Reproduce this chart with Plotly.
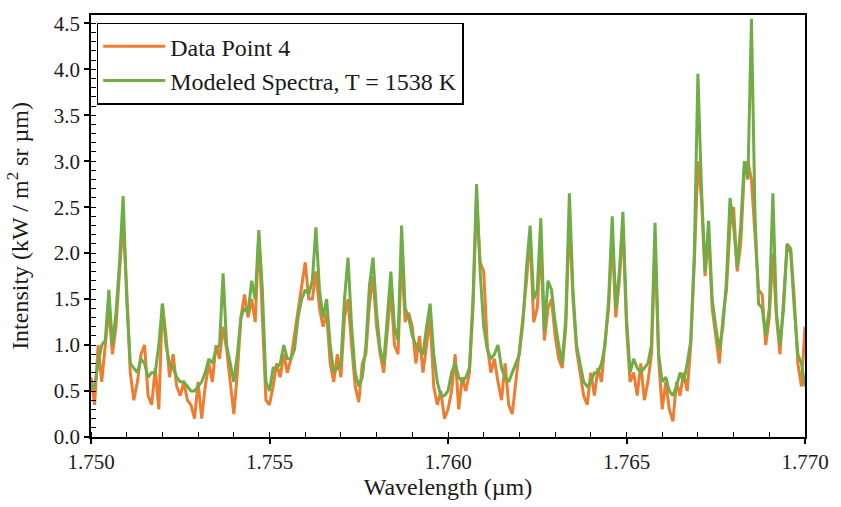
import plotly.graph_objects as go

# wavelength grid (µm), step 0.0001
wl_start = 1.750
wl_step = 0.0001

data_point_4 = [
    0.65, 0.35, 1.0, 0.6, 1.0, 1.4, 0.9, 1.2, 1.8, 2.35,
    1.6, 0.7, 0.4, 0.6, 0.9, 1.0, 0.45, 0.35, 0.75, 0.3,
    1.45, 1.1, 0.65, 0.9, 0.55, 0.45, 0.6, 0.4, 0.35, 0.2,
    0.6, 0.2, 0.55, 0.8, 0.6, 1.0, 0.85, 1.2, 0.95, 0.6,
    0.25, 0.7, 1.3, 1.55, 1.3, 1.5, 1.25, 2.2, 1.35, 0.4,
    0.35, 0.55, 0.8, 0.65, 0.9, 0.7, 0.85, 1.1, 1.35, 1.6,
    1.9, 1.5, 1.5, 1.8, 1.4, 1.2, 1.35, 0.8, 0.6, 0.9,
    0.65, 1.3, 1.5, 1.0, 0.55, 0.38, 0.8, 0.9, 1.45, 1.75,
    1.2, 0.9, 0.7, 1.15, 1.6, 1.0, 0.9, 2.0, 1.25, 1.35,
    1.2, 0.8, 1.1, 0.7, 1.0, 1.3, 0.55, 0.35, 0.5, 0.2,
    0.3, 0.5, 0.9, 0.3, 0.65, 0.5, 0.7, 1.4, 2.6, 1.9,
    1.8, 1.0, 0.7, 0.85, 0.6, 0.4, 0.8, 0.35, 0.25, 0.6,
    0.9, 1.3, 1.7, 2.2, 1.25, 1.4, 2.1, 1.05, 1.4, 1.5,
    1.1, 0.85, 0.75, 1.2, 2.4, 1.5, 0.95, 0.7, 0.45, 0.35,
    0.7, 0.45, 0.75, 0.6, 1.05, 1.4, 2.2, 1.3, 1.7, 2.3,
    1.2, 0.6, 0.7, 0.45, 0.8, 0.4, 0.6, 0.9, 2.1, 0.85,
    0.3, 0.6, 0.3, 0.17, 0.6, 0.45, 0.7, 0.5, 1.0, 1.9,
    3.0, 2.6, 1.75, 2.2, 1.4, 1.1, 0.8, 1.3, 1.6, 2.3,
    2.5, 1.8, 2.1, 2.9, 3.0, 2.8, 2.2, 1.6, 1.55, 1.0,
    1.3, 2.0, 1.3, 0.9, 1.5, 2.1, 2.05, 1.5, 0.8, 0.55,
    1.2,
]

modeled = [
    0.55, 0.55, 0.8, 1.0, 1.05, 1.6, 1.0, 1.35, 1.9, 2.62,
    1.5, 0.8, 0.75, 0.7, 0.85, 0.8, 0.65, 0.7, 0.7, 1.0,
    1.45, 1.0, 0.8, 0.75, 0.65, 0.6, 0.6, 0.55, 0.5, 0.5,
    0.55, 0.6, 0.7, 0.85, 0.8, 0.95, 1.0, 1.78, 1.0, 0.8,
    0.6, 0.9, 1.3, 1.4, 1.35, 1.7, 1.5, 2.25, 1.6, 0.6,
    0.5, 0.75, 0.75, 0.8, 1.0, 0.85, 0.85, 0.95, 1.3, 1.5,
    1.6, 1.55, 1.7, 2.28, 1.6, 1.3, 1.5, 1.0, 0.7, 0.75,
    0.8, 1.5, 1.95, 1.2, 0.7, 0.55, 0.65, 1.0, 1.65, 1.95,
    1.35, 0.95, 0.8, 1.3, 1.8, 1.2, 1.05, 2.3, 1.4, 1.3,
    1.1, 1.0, 0.95, 0.9, 1.2, 1.45, 0.9, 0.6, 0.45, 0.45,
    0.5, 0.7, 0.8, 0.65, 0.6, 0.65, 0.75, 1.5, 2.75, 1.8,
    1.2, 0.95, 0.85, 0.9, 1.0, 0.75, 0.65, 0.6, 0.7, 0.8,
    0.9, 1.25, 1.85, 2.3, 1.5, 1.6, 2.38, 1.15, 1.7, 1.6,
    1.25, 1.0, 0.8, 1.3, 2.65, 1.6, 1.0, 0.8, 0.6, 0.55,
    0.6, 0.7, 0.7, 0.8, 1.0, 1.5, 2.4, 1.4, 1.8, 2.45,
    1.3, 0.7, 0.85, 0.75, 0.7, 0.75, 0.8, 1.0, 2.33, 0.9,
    0.6, 0.65, 0.5, 0.45, 0.55, 0.7, 0.6, 0.8, 1.05, 2.0,
    3.95, 2.7, 1.8, 2.35, 1.5, 1.2, 0.95, 1.2, 1.7, 2.6,
    2.3, 1.85, 2.3, 3.0, 2.8, 4.55, 2.4, 1.45, 1.4, 1.1,
    1.4, 2.65, 1.35, 1.0, 1.4, 2.1, 2.0, 1.4, 0.9, 0.8,
    0.55,
]

wavelength = [round(wl_start + i * wl_step, 4) for i in range(len(modeled))]

x_ticks = [1.750, 1.755, 1.760, 1.765, 1.770]
x_tick_text = ["1.750", "1.755", "1.760", "1.765", "1.770"]
y_ticks = [0.0, 0.5, 1.0, 1.5, 2.0, 2.5, 3.0, 3.5, 4.0, 4.5]
y_tick_text = ["0.0", "0.5", "1.0", "1.5", "2.0", "2.5", "3.0", "3.5", "4.0", "4.5"]

FONT = "Liberation Serif, Times New Roman, serif"
TXT = "#1a1a1a"

fig = go.Figure()
fig.add_trace(go.Scatter(
    x=wavelength, y=data_point_4, mode="lines", name="Data Point 4",
    line=dict(color="#ED7D31", width=3),
))
fig.add_trace(go.Scatter(
    x=wavelength, y=modeled, mode="lines", name="Modeled Spectra, T = 1538 K",
    line=dict(color="#70AD47", width=3),
))

axis_common = dict(
    showgrid=False, zeroline=False, showline=True, linecolor="black",
    linewidth=1.5, mirror=True, ticks="outside", ticklen=5, tickwidth=1.5,
    tickcolor="black", tickfont=dict(family=FONT, size=21, color=TXT),
)

fig.update_xaxes(
    range=[1.750, 1.770], tickvals=x_ticks, ticktext=x_tick_text,
    minor=dict(ticks="inside", dtick=0.001, tick0=1.750, ticklen=5,
               tickwidth=1.2, tickcolor="black"),
    title=dict(text="Wavelength (µm)", font=dict(family=FONT, size=24, color=TXT),
               standoff=2),
    **axis_common,
)
fig.update_yaxes(
    range=[0, 4.59], tickvals=y_ticks, ticktext=y_tick_text,
    minor=dict(ticks="inside", dtick=0.1, tick0=0, ticklen=5,
               tickwidth=1.2, tickcolor="black"),
    title=dict(text="Intensity (kW / m<sup>2</sup> sr µm)",
               font=dict(family=FONT, size=24, color=TXT), standoff=18),
    **axis_common,
)

fig.update_layout(
    width=841, height=507,
    margin=dict(l=91, r=28, t=12, b=70),
    paper_bgcolor="white", plot_bgcolor="white",
    font=dict(family=FONT, size=21, color=TXT),
    showlegend=True,
    legend=dict(
        x=0.008, y=0.982, xanchor="left", yanchor="top",
        bgcolor="white", bordercolor="black", borderwidth=1.5,
        font=dict(family=FONT, size=24, color=TXT),
        tracegroupgap=0, itemwidth=62,
    ),
)

fig.write_html("out.html")
